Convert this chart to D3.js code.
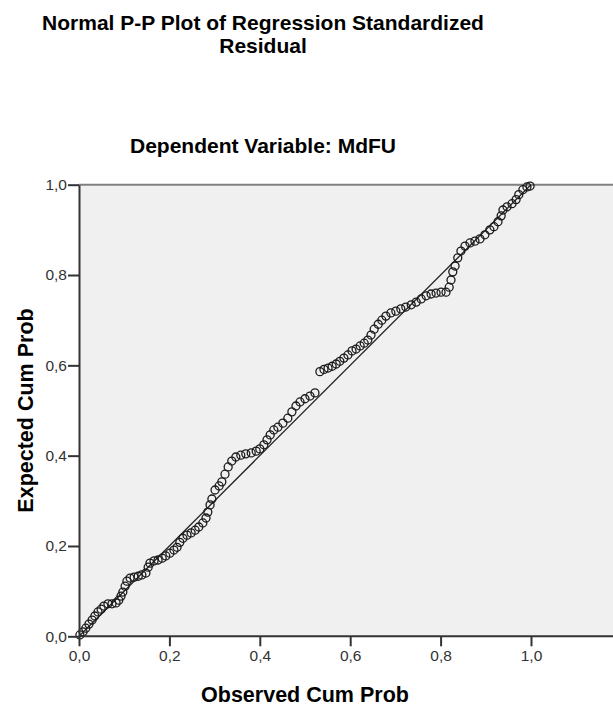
<!DOCTYPE html>
<html>
<head>
<meta charset="utf-8">
<script src="https://cdn.jsdelivr.net/npm/d3@7"></script>
<style>
  body { margin: 0; background: #fff; }
  text { font-family: Arial, "Liberation Sans", sans-serif; }
</style>
</head>
<body>
<svg id="chart"></svg>
<script>
// observed cumulative probability (x) and expected cumulative probability (y)
const observed = [0.002, 0.009, 0.015, 0.022, 0.029, 0.035, 0.042, 0.049, 0.055, 0.064,
  0.073, 0.082, 0.088, 0.093, 0.097, 0.102, 0.106, 0.113, 0.122, 0.131,
  0.139, 0.148, 0.153, 0.157, 0.166, 0.175, 0.184, 0.192, 0.201, 0.210,
  0.217, 0.223, 0.230, 0.239, 0.248, 0.257, 0.265, 0.274, 0.281, 0.285,
  0.290, 0.294, 0.301, 0.310, 0.316, 0.323, 0.330, 0.338, 0.347, 0.358,
  0.369, 0.381, 0.392, 0.400, 0.409, 0.416, 0.423, 0.431, 0.440, 0.451,
  0.462, 0.471, 0.480, 0.489, 0.500, 0.511, 0.522, 0.533, 0.542, 0.551,
  0.560, 0.569, 0.577, 0.586, 0.595, 0.604, 0.613, 0.622, 0.631, 0.639,
  0.646, 0.653, 0.662, 0.670, 0.679, 0.690, 0.701, 0.712, 0.723, 0.735,
  0.746, 0.757, 0.768, 0.779, 0.790, 0.801, 0.812, 0.819, 0.823, 0.827,
  0.832, 0.838, 0.845, 0.854, 0.865, 0.876, 0.887, 0.898, 0.909, 0.918,
  0.927, 0.934, 0.938, 0.947, 0.958, 0.967, 0.973, 0.982, 0.991, 0.998];
const expected = [0.003, 0.010, 0.018, 0.027, 0.036, 0.045, 0.054, 0.060, 0.067, 0.072,
  0.072, 0.074, 0.080, 0.089, 0.098, 0.111, 0.122, 0.129, 0.131, 0.133,
  0.136, 0.140, 0.153, 0.162, 0.167, 0.169, 0.173, 0.178, 0.184, 0.191,
  0.197, 0.208, 0.217, 0.224, 0.229, 0.235, 0.242, 0.251, 0.262, 0.275,
  0.291, 0.304, 0.324, 0.333, 0.342, 0.359, 0.375, 0.388, 0.397, 0.401,
  0.404, 0.406, 0.410, 0.415, 0.424, 0.435, 0.446, 0.457, 0.463, 0.472,
  0.483, 0.497, 0.510, 0.519, 0.526, 0.532, 0.539, 0.586, 0.591, 0.594,
  0.598, 0.603, 0.609, 0.616, 0.623, 0.632, 0.636, 0.643, 0.649, 0.656,
  0.667, 0.680, 0.691, 0.700, 0.709, 0.716, 0.720, 0.725, 0.729, 0.734,
  0.740, 0.747, 0.754, 0.758, 0.760, 0.762, 0.762, 0.773, 0.789, 0.807,
  0.820, 0.838, 0.853, 0.864, 0.871, 0.875, 0.880, 0.889, 0.900, 0.907,
  0.918, 0.931, 0.944, 0.951, 0.958, 0.967, 0.978, 0.989, 0.995, 0.997];
const tickValues = [0, 0.2, 0.4, 0.6, 0.8, 1.0];
const titleLines = ['Normal P-P Plot of Regression Standardized', 'Residual'];
const subtitle = 'Dependent Variable: MdFU';
const xLabel = 'Observed Cum Prob';
const yLabel = 'Expected Cum Prob';

const svgWidth = 613, svgHeight = 709;
const plotLeft = 79, plotTop = 184.7, plotBottom = 636.3;
const plotRight = 531; // where 1,0 sits on the x axis

const svg = d3.select('#chart')
  .attr('width', svgWidth)
  .attr('height', svgHeight);

const xScale = d3.scaleLinear().domain([0, 1]).range([plotLeft, plotRight]);
const yScale = d3.scaleLinear().domain([0, 1]).range([plotBottom, plotTop]);

const fmt = d => d3.format('.1f')(d).replace('.', ',');

// plot background (runs past the right edge of the picture)
svg.append('rect')
  .attr('x', plotLeft)
  .attr('y', plotTop)
  .attr('width', svgWidth - plotLeft + 10)
  .attr('height', plotBottom - plotTop)
  .attr('fill', '#f0f0f0');

// top frame line
svg.append('line')
  .attr('x1', plotLeft).attr('x2', svgWidth)
  .attr('y1', plotTop).attr('y2', plotTop)
  .attr('stroke', '#808080')
  .attr('stroke-width', 2);

// reference diagonal
svg.append('line')
  .attr('x1', xScale(0)).attr('y1', yScale(0))
  .attr('x2', xScale(1)).attr('y2', yScale(1))
  .attr('stroke', '#222')
  .attr('stroke-width', 1.3);

// points
svg.append('g')
  .selectAll('circle')
  .data(observed.map((d, i) => [d, expected[i]]))
  .enter()
  .append('circle')
  .attr('cx', d => xScale(d[0]))
  .attr('cy', d => yScale(d[1]))
  .attr('r', 4)
  .attr('fill', 'none')
  .attr('stroke', '#1a1a1a')
  .attr('stroke-width', 1.3);

// axes
const x_axis = d3.axisBottom(xScale)
  .tickValues(tickValues)
  .tickFormat(fmt)
  .tickSize(10)
  .tickSizeOuter(0)
  .tickPadding(4);

const y_axis = d3.axisLeft(yScale)
  .tickValues(tickValues)
  .tickFormat(fmt)
  .tickSize(11)
  .tickSizeOuter(0)
  .tickPadding(1);

const gx = svg.append('g')
  .attr('transform', 'translate(0,' + plotBottom + ')')
  .call(x_axis);
gx.select('.domain').attr('d', 'M' + plotLeft + ',0H' + (svgWidth + 5));

const gy = svg.append('g')
  .attr('transform', 'translate(' + plotLeft + ',0)')
  .call(y_axis);

[gx, gy].forEach(g => {
  g.select('.domain').attr('stroke', '#333').attr('stroke-width', 2);
  g.selectAll('.tick line').attr('stroke', '#333').attr('stroke-width', 2);
  g.selectAll('.tick text')
    .attr('fill', '#333')
    .style('font-family', 'Arial, "Liberation Sans", sans-serif')
    .style('font-size', '15.5px');
});

// titles
svg.append('text')
  .attr('text-anchor', 'middle')
  .style('font-size', '21px')
  .style('font-weight', 'bold')
  .selectAll('tspan')
  .data(titleLines)
  .enter()
  .append('tspan')
  .attr('x', 263)
  .attr('y', (d, i) => 30 + i * 23)
  .text(d => d);

svg.append('text')
  .attr('x', 263)
  .attr('y', 153)
  .attr('text-anchor', 'middle')
  .style('font-size', '21px')
  .style('font-weight', 'bold')
  .text(subtitle);

svg.append('text')
  .attr('x', 305)
  .attr('y', 702)
  .attr('text-anchor', 'middle')
  .style('font-size', '21.5px')
  .style('font-weight', 'bold')
  .text(xLabel);

svg.append('text')
  .attr('transform', 'translate(33,' + ((plotTop + plotBottom) / 2) + ') rotate(-90)')
  .attr('text-anchor', 'middle')
  .style('font-size', '21.5px')
  .style('font-weight', 'bold')
  .text(yLabel);
</script>
</body>
</html>
